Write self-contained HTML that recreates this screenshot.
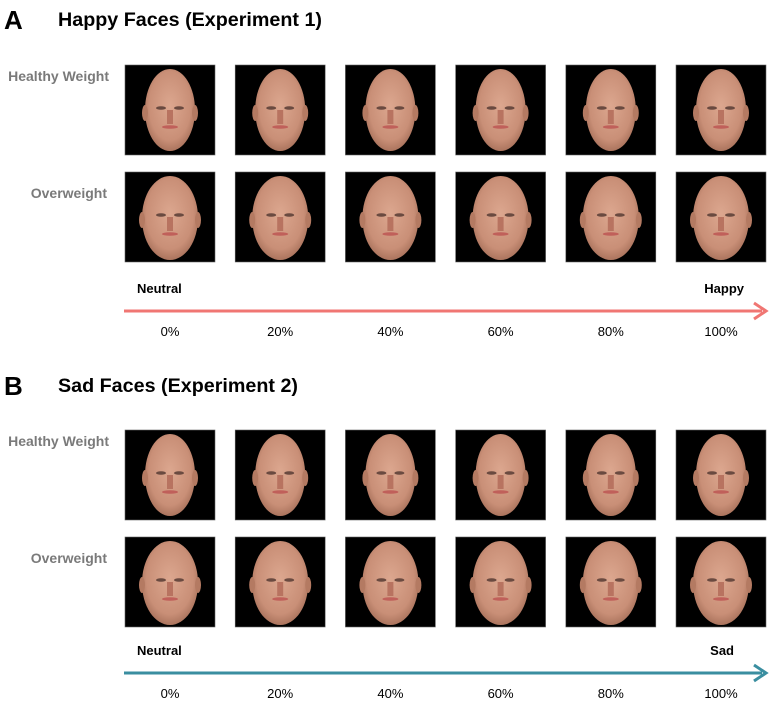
<!DOCTYPE html>
<html><head><meta charset="utf-8"><style>
html,body{margin:0;padding:0;background:#fff;}
svg{display:block;font-family:"Liberation Sans",sans-serif;}
</style></head><body>
<svg id="fig" width="771" height="702" viewBox="0 0 771 702">
<defs>
<radialGradient id="skin" cx="50%" cy="45%" r="60%">
<stop offset="0%" stop-color="#dca78f"/><stop offset="70%" stop-color="#c98f77"/><stop offset="100%" stop-color="#a06a54"/>
</radialGradient>
<g id="face">
<rect x="0" y="0" width="90" height="90" fill="#000" stroke="#666" stroke-width="0.6"/>
<ellipse cx="45" cy="45" rx="25" ry="41" fill="url(#skin)"/>
<ellipse cx="20" cy="48" rx="3" ry="8" fill="#b47a62"/>
<ellipse cx="70" cy="48" rx="3" ry="8" fill="#b47a62"/>
<ellipse cx="36" cy="43" rx="5" ry="1.8" fill="#6a4a40"/>
<ellipse cx="54" cy="43" rx="5" ry="1.8" fill="#6a4a40"/>
<rect x="42" y="45" width="6" height="14" fill="#b87360"/>
<ellipse cx="45" cy="62" rx="8" ry="1.8" fill="#c0605a"/>
</g>
<g id="faceow">
<rect x="0" y="0" width="90" height="90" fill="#000" stroke="#666" stroke-width="0.6"/>
<ellipse cx="45" cy="46" rx="28" ry="42" fill="url(#skin)"/>
<ellipse cx="17" cy="48" rx="3" ry="8" fill="#b47a62"/>
<ellipse cx="73" cy="48" rx="3" ry="8" fill="#b47a62"/>
<ellipse cx="36" cy="43" rx="5" ry="1.8" fill="#6a4a40"/>
<ellipse cx="54" cy="43" rx="5" ry="1.8" fill="#6a4a40"/>
<rect x="42" y="45" width="6" height="14" fill="#b87360"/>
<ellipse cx="45" cy="62" rx="8" ry="1.8" fill="#c0605a"/>
</g>
</defs>
<g id="content"></g>
</svg>
<script>
const levels = ["0%","20%","40%","60%","80%","100%"];
const rowLabels = ["Healthy Weight","Overweight"];
const panels = ["A","B"];
const panelTitles = ["Happy Faces (Experiment 1)","Sad Faces (Experiment 2)"];
const endLabels = ["Happy","Sad"];
const arrowColors = ["#f07673","#3a8ea0"];
const panelTop = [0, 366];
const NS="http://www.w3.org/2000/svg";
const root=document.getElementById('content');
const colX=i=>125+i*110.2;
function el(t,a,txt){const e=document.createElementNS(NS,t);for(const k in a)e.setAttribute(k,a[k]);if(txt!==undefined)e.textContent=txt;root.appendChild(e);return e;}
panels.forEach((p,pi)=>{
  const t0=panelTop[pi];
  let e=el('text',{x:4,y:t0+29,'font-size':26,'font-weight':'bold',fill:'#000'},p);
  
  
  e=el('text',{x:58,y:t0+26,'font-size':19,'font-weight':'bold',fill:'#000',textLength:264-pi*24,lengthAdjust:'spacingAndGlyphs'},panelTitles[pi]);
  
  
  const rowY=[t0+65-pi*1, t0+172-pi*1];
  rowLabels.forEach((rl,ri)=>{
    const ty = rowY[ri] + (ri===0?16:26);
    e=el('text',{x:ri===0?109:107,y:ty,'font-size':14,'font-weight':'bold',fill:'#7a7a7a','text-anchor':'end'},rl);
    
    
    levels.forEach((lv,ci)=>{
      const u=el('use',{href:ri===0?'#face':'#faceow',x:colX(ci),y:rowY[ri]});
      
      
    });
  });
  const ay=t0+311-pi*4;
  e=el('line',{x1:124,y1:ay,x2:762,y2:ay,stroke:arrowColors[pi],'stroke-width':3});
  
  
  e=el('polyline',{points:`754,${ay-8} 766,${ay} 754,${ay+8}`,fill:'none',stroke:arrowColors[pi],'stroke-width':3});
  
  
  e=el('text',{x:137,y:ay-18,'font-size':13,'font-weight':'bold',fill:'#000'},'Neutral');
  
  
  e=el('text',{x:pi===0?744:734,y:ay-18,'font-size':13,'font-weight':'bold',fill:'#000','text-anchor':'end'},endLabels[pi]);
  
  
  levels.forEach((lv,ci)=>{
    e=el('text',{x:colX(ci)+45,y:ay+25,'font-size':13,fill:'#000','text-anchor':'middle'},lv);
    
    
  });
});
</script>
</body></html>
